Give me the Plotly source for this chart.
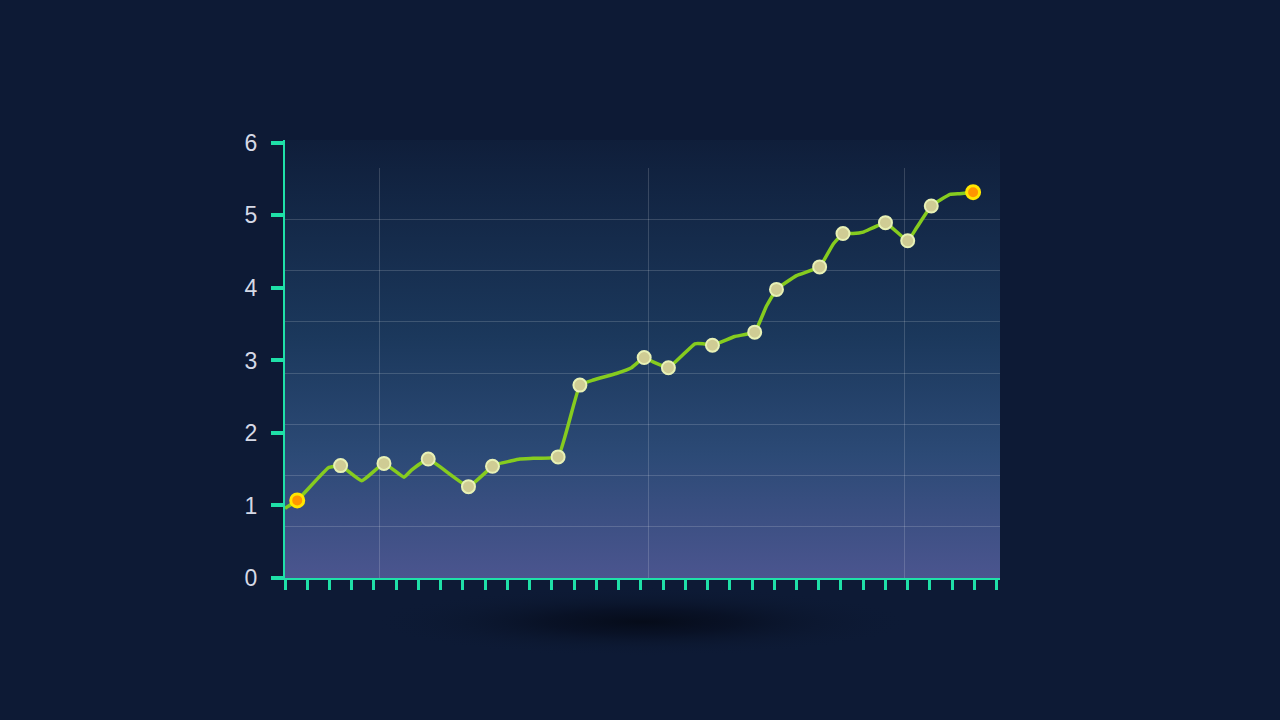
import base64
import plotly.graph_objects as go


# ---------- DATA ----------
LINE_X = [0, 0.55, 1.95, 2.5, 3.45, 4.45, 5.35, 5.7, 6.44, 8.25, 9.33, 9.66, 10.1,
          10.56, 11.16, 12.28, 13.26, 13.86, 14.9, 15.58, 16.15, 16.55, 17.24, 18.43,
          18.8, 19.22, 20.22, 21.12, 21.65, 22.1, 23.0, 24.04, 24.64, 25.09, 25.54,
          26.0, 27.0, 28.0, 28.4, 29.06, 29.9, 30.34, 30.94]
LINE_Y = [0.96, 1.07, 1.52, 1.55, 1.34, 1.58, 1.39, 1.49, 1.64, 1.26, 1.54, 1.58, 1.61,
          1.64, 1.65, 1.67, 2.66, 2.73, 2.82, 2.90, 3.04, 2.98, 2.90, 3.23,
          3.23, 3.21, 3.33, 3.39, 3.75, 3.98, 4.17, 4.29, 4.60, 4.75, 4.75,
          4.77, 4.90, 4.65, 4.83, 5.13, 5.29, 5.30, 5.32]

MARK_X = [2.5, 4.45, 6.44, 8.25, 9.33, 12.28, 13.26, 16.15, 17.24, 19.22, 21.12,
          22.1, 24.04, 25.09, 27.0, 28.0, 29.06]
MARK_Y = [1.55, 1.58, 1.64, 1.26, 1.54, 1.67, 2.66, 3.04, 2.90, 3.21, 3.39,
          3.98, 4.29, 4.75, 4.90, 4.65, 5.13]

END_X = [0.55, 30.94]
END_Y = [1.07, 5.32]

Y_TICKS = [0, 1, 2, 3, 4, 5, 6]
GRID_X = [4.27, 16.36, 27.87]
GRID_Y = [1, 2, 3, 4, 5, 6, 7]

TEAL = "#1fe0a8"
BG = "#0d1a35"


def svg_uri(svg):
    return "data:image/svg+xml;base64," + base64.b64encode(svg.encode()).decode()


GRADIENT_SVG = """<svg xmlns='http://www.w3.org/2000/svg' width='100' height='100' preserveAspectRatio='none'>
<defs><linearGradient id='g' x1='0' y1='0' x2='0' y2='1'>
<stop offset='0' stop-color='#0f1e3a'/>
<stop offset='0.45' stop-color='#1b385c'/>
<stop offset='0.72' stop-color='#2c4a76'/>
<stop offset='1' stop-color='#4b558f'/>
</linearGradient></defs>
<rect width='100' height='100' fill='url(#g)'/></svg>"""

SHADOW_SVG = """<svg xmlns='http://www.w3.org/2000/svg' width='200' height='20' preserveAspectRatio='none'>
<defs><radialGradient id='s' cx='0.5' cy='0.5' r='0.5'>
<stop offset='0' stop-color='#050a16' stop-opacity='0.9'/>
<stop offset='0.35' stop-color='#060c1c' stop-opacity='0.6'/>
<stop offset='0.7' stop-color='#0a1429' stop-opacity='0.25'/>
<stop offset='1' stop-color='#0d1a35' stop-opacity='0'/>
</radialGradient></defs>
<rect width='200' height='20' fill='url(#s)'/></svg>"""

fig = go.Figure()

# grid-only subplot (x, y)
fig.add_trace(go.Scatter(x=[None], y=[None], mode="none", showlegend=False,
                         hoverinfo="skip", xaxis="x", yaxis="y"))

# ---------- LINE ----------
fig.add_trace(go.Scatter(
    x=LINE_X, y=LINE_Y, mode="lines", xaxis="x2", yaxis="y2",
    line=dict(color="#86cc1f", width=3.5, shape="spline", smoothing=0.3),
    showlegend=False, hoverinfo="skip",
))

fig.add_trace(go.Scatter(
    x=MARK_X, y=MARK_Y, mode="markers", xaxis="x2", yaxis="y2",
    marker=dict(size=13, color="#cfcc94", line=dict(color="#e8f1b6", width=2)),
    showlegend=False,
))

fig.add_trace(go.Scatter(
    x=END_X, y=END_Y, mode="markers", xaxis="x2", yaxis="y2",
    marker=dict(size=13, color="#ff9500", line=dict(color="#ffe600", width=3)),
    showlegend=False,
))

fig.add_layout_image(dict(
    source=svg_uri(GRADIENT_SVG), xref="paper", yref="paper",
    x=0, y=1, sizex=1, sizey=1, sizing="stretch", layer="below",
    xanchor="left", yanchor="top",
))
fig.add_layout_image(dict(
    source=svg_uri(SHADOW_SVG), xref="paper", yref="paper",
    x=0.12, y=-0.02, sizex=0.76, sizey=0.16, sizing="stretch", layer="below",
    xanchor="left", yanchor="top",
))

fig.update_layout(
    width=1280,
    height=720,
    margin=dict(l=285, r=280, t=140, b=142),
    paper_bgcolor=BG,
    plot_bgcolor="rgba(0,0,0,0)",
    font=dict(family="Liberation Sans, Arial, sans-serif", color="#d5d9e6"),
    xaxis=dict(domain=[0, 1], range=[0, 32.15], tickvals=GRID_X, showticklabels=False,
               showgrid=True, gridcolor="rgba(255,255,255,0.16)", gridwidth=1,
               zeroline=False, ticks="", showline=False, anchor="y"),
    yaxis=dict(domain=[0, 0.936], range=[0, 8], tickvals=GRID_Y, showticklabels=False,
               showgrid=True, gridcolor="rgba(255,255,255,0.16)", gridwidth=1,
               zeroline=False, ticks="", showline=False, anchor="x"),
    xaxis2=dict(domain=[0, 1], range=[0, 32.15], tick0=0, dtick=1, showticklabels=False,
                showgrid=False, zeroline=False, ticks="outside", ticklen=10, tickwidth=3,
                tickcolor=TEAL, showline=True, linecolor=TEAL, linewidth=2, anchor="y2"),
    yaxis2=dict(domain=[0, 1], range=[0, 6.04], tickvals=Y_TICKS, showgrid=False,
                zeroline=False, ticks="outside", ticklen=12, tickwidth=4, tickcolor=TEAL,
                showline=True, linecolor=TEAL, linewidth=2, anchor="x2",
                tickfont=dict(size=23, color="#d5d9e6"), ticklabelstandoff=9),
)

fig.write_html("out.html", config={"displayModeBar": False},
               post_script="document.body.style.margin='0';")
